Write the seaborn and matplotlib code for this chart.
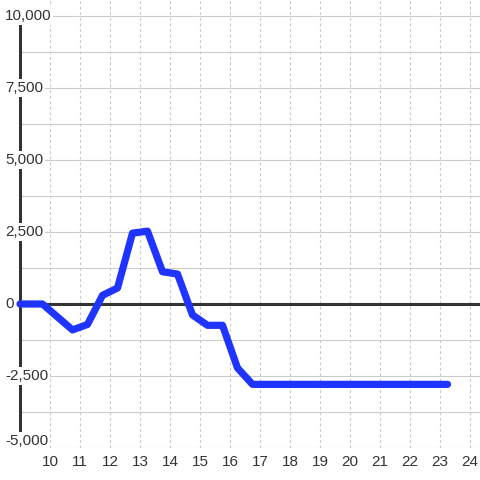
import matplotlib
matplotlib.use("Agg")
import matplotlib.pyplot as plt
import seaborn as sns
import pandas as pd

# series
hours = [9.0, 9.75, 10.75, 11.25, 11.75, 12.25, 12.75, 13.25, 13.75, 14.25,
         14.75, 15.25, 15.75, 16.25, 16.75, 23.25]
values = [0, 0, -900, -710, 300, 555, 2460, 2530, 1120, 1040,
          -380, -740, -740, -2220, -2790, -2790]

x_ticks = list(range(10, 25))
y_grid = list(range(-5000, 10001, 1250))
y_labels = [-5000, -2500, 0, 2500, 5000, 7500, 10000]

sns.set_theme(style="whitegrid")
plt.rcParams["font.family"] = ["Liberation Sans", "DejaVu Sans"]

df = pd.DataFrame({"hour": hours, "value": values})

fig = plt.figure(figsize=(4.8, 4.8), dpi=100)
ax = fig.add_axes([20 / 480, 32 / 480, 460 / 480, 448 / 480])
ax.set_facecolor("white")

sns.lineplot(data=df, x="hour", y="value", ax=ax, color="#1f35ff",
             linewidth=5.2, zorder=3, clip_on=False)

ax.axhline(0, color="#333333", linewidth=2.2, zorder=1.8)

ax.set_xlim(9.0, 9.0 + 460 / 30)
ax.set_ylim(-5000, 10000 + 16 / 72 * 2500)
ax.set_xticks(x_ticks)
ax.set_yticks(y_grid)
ax.set_yticklabels([])
ax.set_xlabel("")
ax.set_ylabel("")
ax.tick_params(axis="both", length=0)
ax.tick_params(axis="x", pad=5.0, labelsize=11, labelcolor="#333333")

ax.set_axisbelow(True)
ax.yaxis.grid(True, color="#cccccc", linewidth=0.8, linestyle="-")
ax.xaxis.grid(True, color="#c8c8c8", linewidth=0.8, linestyle=(0, (2.5, 2.5)))

for side in ["top", "right", "bottom"]:
    ax.spines[side].set_visible(False)
ax.spines["left"].set_color("#333333")
ax.spines["left"].set_linewidth(2.2)
ax.spines["left"].set_bounds(-5000, 10000)
ax.spines["left"].set_zorder(1.8)

lx = (5 - 20) / 460
for v in y_labels:
    va = "bottom" if v == y_labels[0] else "center"
    ax.text(lx, v, f"{v:,}", transform=ax.get_yaxis_transform(), ha="left", va=va,
            fontsize=11, color="#333333", zorder=5, clip_on=False,
            bbox=dict(boxstyle="square,pad=0.12", fc="white", ec="none"))

fig.savefig("out.png", dpi=100)
plt.close()
